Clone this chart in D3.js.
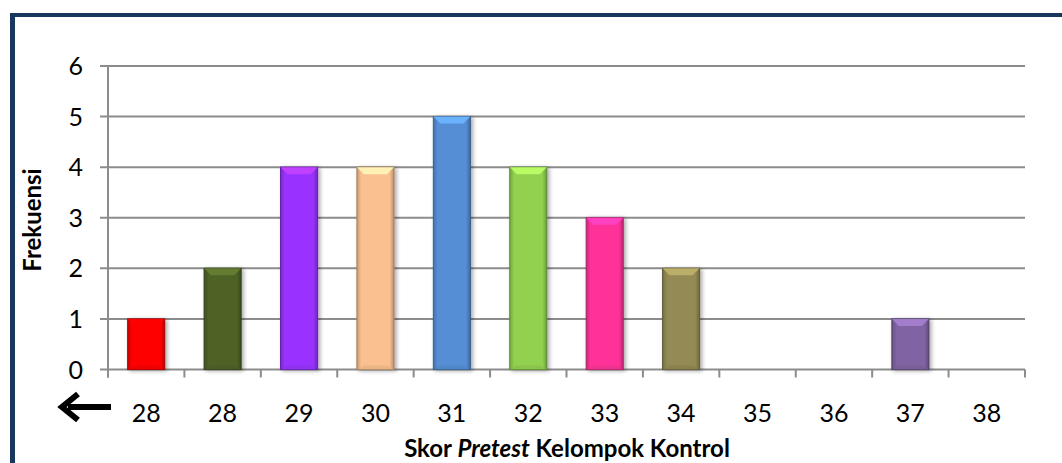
<!DOCTYPE html>
<html><head><meta charset="utf-8">
<script src="https://cdn.jsdelivr.net/npm/d3@7"></script>
<style>body{margin:0;background:#fff}svg{display:block}</style>
</head><body>
<script>
const categories = ["28","28","29","30","31","32","33","34","35","36","37","38"];
const values = [1,2,4,4,5,4,3,2,0,0,1,0];
const colors = ["#ff0000","#4f6228","#9933ff","#fac090","#558ed5","#92d050","#ff3399","#948a54","#8064a2","#8064a2","#8064a2","#8064a2"];
const yTicks = [0,1,2,3,4,5,6];
const yTitle = "Frekuensi";

(function(){
const W = 1062, H = 463;
const svg = d3.select("body").append("svg").attr("width", W).attr("height", H);
const font = "Lato, 'Open Sans', sans-serif";

svg.append("rect").attr("x",10).attr("y",13).attr("width",W-10).attr("height",4).attr("fill","#17375e");
svg.append("rect").attr("x",10).attr("y",13).attr("width",5).attr("height",H-13).attr("fill","#17375e");

const pLeft = 108, pRight = 1025, pTop = 66, pBottom = 369.5;
const x = d3.scaleBand().domain(d3.range(categories.length)).range([pLeft, pRight]);
const y = d3.scaleLinear().domain([0,6]).range([pBottom, pTop]);

const defs = svg.append("defs");
const f = defs.append("filter").attr("id","sh").attr("x","-30%").attr("y","-10%").attr("width","160%").attr("height","130%");
f.append("feGaussianBlur").attr("in","SourceAlpha").attr("stdDeviation",2);
f.append("feOffset").attr("dx",2).attr("dy",1).attr("result","b");
f.append("feComponentTransfer").append("feFuncA").attr("type","linear").attr("slope",0.35);
const m = f.append("feMerge"); m.append("feMergeNode"); m.append("feMergeNode").attr("in","SourceGraphic");

const g = svg.append("g");
g.selectAll("line.grid").data(yTicks).join("line")
  .attr("x1", pLeft-8).attr("x2", pRight).attr("y1", d=>y(d)).attr("y2", d=>y(d))
  .attr("stroke","#8c8c8c").attr("stroke-width",2);
g.append("line").attr("x1",pLeft).attr("x2",pLeft).attr("y1",pTop).attr("y2",pBottom+8).attr("stroke","#8c8c8c").attr("stroke-width",2);
g.selectAll("line.xt").data(d3.range(categories.length+1)).join("line")
  .attr("x1", i=> i<categories.length ? x(i) : pRight).attr("x2", i=> i<categories.length ? x(i) : pRight)
  .attr("y1", pBottom).attr("y2", pBottom+8).attr("stroke","#8c8c8c").attr("stroke-width",2);

svg.selectAll("text.yl").data(yTicks).join("text")
  .attr("x", 83).attr("y", d=>y(d)).attr("dy","0.36em").attr("text-anchor","end")
  .attr("font-family",font).attr("font-size",25).attr("fill","#000").text(d=>d);

const bw = x.bandwidth()*0.485;
const bars = svg.selectAll("g.bar").data(values.map((v,i)=>({v,i})).filter(d=>d.v>0)).join("g").attr("filter","url(#sh)");
bars.each(function(d){
  const gg = d3.select(this);
  const c = d3.color(colors[d.i]);
  const x0 = x(d.i) + (x.bandwidth()-bw)/2, x1 = x0+bw, y0 = y(d.v), y1 = y(0);
  const gid = "gr"+d.i;
  const lg = defs.append("linearGradient").attr("id",gid).attr("x1",0).attr("x2",1).attr("y1",0).attr("y2",0);
  lg.append("stop").attr("offset","0").attr("stop-color", c.darker(0.6));
  lg.append("stop").attr("offset","0.12").attr("stop-color", c.formatHex());
  lg.append("stop").attr("offset","0.88").attr("stop-color", c.formatHex());
  lg.append("stop").attr("offset","1").attr("stop-color", c.darker(0.8));
  gg.append("rect").attr("x",x0).attr("y",y0).attr("width",bw).attr("height",y1-y0)
    .attr("fill",`url(#${gid})`).attr("stroke",c.darker(1.2)).attr("stroke-width",1);
  const bv = 7;
  gg.append("path").attr("d",`M${x0},${y0}L${x1},${y0}L${x1-bv},${y0+bv}L${x0+bv},${y0+bv}Z`)
    .attr("fill", c.brighter(0.7)).attr("opacity",0.9);
  gg.append("path").attr("d",`M${x0},${y1}L${x1},${y1}L${x1-bv},${y1-4}L${x0+bv},${y1-4}Z`)
    .attr("fill", c.darker(0.3)).attr("opacity",0.6);
});

svg.selectAll("text.xl").data(categories).join("text")
  .attr("x", (d,i)=>x(i)+x.bandwidth()/2).attr("y", 422).attr("text-anchor","middle")
  .attr("font-family",font).attr("font-size",25).attr("fill","#000").text(d=>d);

svg.append("line").attr("x1",68).attr("x2",111).attr("y1",407).attr("y2",407).attr("stroke","#000").attr("stroke-width",6);
svg.append("path").attr("d","M78,394L62,407L78,420").attr("fill","none").attr("stroke","#000").attr("stroke-width",6).attr("stroke-linejoin","miter");

const t = svg.append("text").attr("x",567).attr("y",457).attr("text-anchor","middle")
  .attr("font-family",font).attr("font-size",24).attr("font-weight","bold").attr("fill","#000");
t.append("tspan").text("Skor ");
t.append("tspan").attr("font-style","italic").text("Pretest");
t.append("tspan").text(" Kelompok Kontrol");

svg.append("text").attr("transform","translate(41,220) rotate(-90)").attr("text-anchor","middle")
  .attr("font-family",font).attr("font-size",24).attr("font-weight","bold").attr("fill","#000").text(yTitle);
})();
</script>
</body></html>
